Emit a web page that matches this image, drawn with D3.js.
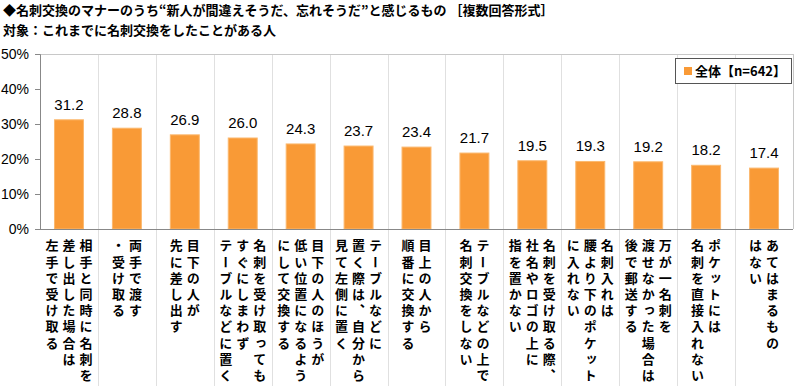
<!DOCTYPE html>
<html>
<head>
<meta charset="utf-8">
<script src="https://cdn.jsdelivr.net/npm/d3@7"></script>
<style>
  html, body { margin: 0; padding: 0; background: #fff; }
  svg { display: block; }
  .jp { font-family: "Noto Sans CJK JP", "Noto Sans CJK SC", sans-serif; font-weight: bold; }
  .num { font-family: "Liberation Sans", Arial, sans-serif; }
</style>
</head>
<body>
<svg id="chart" width="800" height="391"></svg>
<script>
const titleLine1 = "◆名刺交換のマナーのうち“新人が間違えそうだ、忘れそうだ”と感じるもの ［複数回答形式］";
const titleLine2 = "対象：これまでに名刺交換をしたことがある人";
const seriesName = "全体【n=642】";

const categories = [
  ["相手と同時に名刺を", "差し出した場合は", "左手で受け取る"],
  ["両手で渡す", "・受け取る"],
  ["目下の人が", "先に差し出す"],
  ["名刺を受け取っても", "すぐにしまわず", "テーブルなどに置く"],
  ["目下の人のほうが", "低い位置になるよう", "にして交換する"],
  ["テーブルなどに", "置く際は、自分から", "見て左側に置く"],
  ["目上の人から", "順番に交換する"],
  ["テーブルなどの上で", "名刺交換をしない"],
  ["名刺を受け取る際、", "社名やロゴの上に", "指を置かない"],
  ["名刺入れは", "腰より下のポケット", "に入れない"],
  ["万が一名刺を", "渡せなかった場合は", "後で郵送する"],
  ["ポケットには", "名刺を直接入れない"],
  ["あてはまるもの", "はない"]
];
const values = [31.2, 28.8, 26.9, 26.0, 24.3, 23.7, 23.4, 21.7, 19.5, 19.3, 19.2, 18.2, 17.4];
const yTicks = [0, 10, 20, 30, 40, 50];

const svg = d3.select("#chart");
const pL = 40, pR = 793, pT = 54, pB = 229;

const x = d3.scaleBand().domain(d3.range(categories.length))
  .range([pL, pR]).paddingInner(0.5).paddingOuter(0.25);
const y = d3.scaleLinear().domain([0, 50]).range([pB, pT]);
const step = x.step();

// Title
svg.append("text").attr("class", "jp").attr("x", 3).attr("y", 15)
  .attr("font-size", 13).attr("fill", "#000").text(titleLine1);
svg.append("text").attr("class", "jp").attr("x", 3).attr("y", 35)
  .attr("font-size", 13).attr("fill", "#000").text(titleLine2);

// Category separators (plot + label area)
const seps = d3.range(1, categories.length).map(i => Math.round(x(i) - (step - x.bandwidth()) / 2) + 0.5);
svg.append("g").selectAll("line").data(seps).join("line")
  .attr("x1", d => d).attr("x2", d => d)
  .attr("y1", pT).attr("y2", 386)
  .attr("stroke", "#e0e0e0").attr("stroke-width", 1);

// Plot frame: top and right
svg.append("line").attr("x1", pL).attr("x2", pR).attr("y1", pT + 0.5).attr("y2", pT + 0.5)
  .attr("stroke", "#c8c8c8");
svg.append("line").attr("x1", pR + 0.5).attr("x2", pR + 0.5).attr("y1", pT).attr("y2", pB)
  .attr("stroke", "#c8c8c8");

// Bars
svg.append("g").selectAll("rect").data(values).join("rect")
  .attr("x", (d, i) => x(i)).attr("width", x.bandwidth())
  .attr("y", d => y(d)).attr("height", d => y(0) - y(d))
  .attr("fill", "#F99A36").attr("stroke", "#FBB86E").attr("stroke-width", 1);

// Value labels
svg.append("g").selectAll("text").data(values).join("text")
  .attr("class", "num")
  .attr("x", (d, i) => x(i) + x.bandwidth() / 2)
  .attr("y", d => y(d) - 10)
  .attr("text-anchor", "middle").attr("font-size", 15).attr("fill", "#000")
  .text(d => d.toFixed(1));

// Y axis
const yAxis = svg.append("g").attr("transform", `translate(${pL},0)`)
  .call(d3.axisLeft(y).tickValues(yTicks).tickFormat(d => d + "%").tickSize(5).tickPadding(6));
yAxis.select(".domain").attr("stroke", "#888");
yAxis.selectAll(".tick line").attr("stroke", "#888");
yAxis.selectAll(".tick text").attr("class", "num").attr("font-size", 14).attr("fill", "#000");

// X axis line
svg.append("line").attr("x1", pL).attr("x2", pR).attr("y1", pB + 0.5).attr("y2", pB + 0.5)
  .attr("stroke", "#888");

// Vertical category labels
const colGap = 17;
const lblG = svg.append("g");
categories.forEach((lines, i) => {
  const cx = x(i) + x.bandwidth() / 2;
  const n = lines.length;
  lines.forEach((line, j) => {
    lblG.append("text").attr("class", "jp")
      .attr("x", cx + ((n - 1) / 2 - j) * colGap)
      .attr("y", 239)
      .attr("font-size", 13)
      .attr("fill", "#000")
      .style("writing-mode", "vertical-rl")
      .style("letter-spacing", "3.2px")
      .text(line);
  });
});

// Legend
const lg = svg.append("g");
lg.append("rect").attr("x", 675.5).attr("y", 58.5).attr("width", 116).attr("height", 25)
  .attr("fill", "#fff").attr("stroke", "#555");
lg.append("rect").attr("x", 684).attr("y", 67).attr("width", 8).attr("height", 8).attr("fill", "#F99A36");
lg.append("text").attr("class", "jp").attr("x", 695).attr("y", 76).attr("font-size", 13)
  .attr("fill", "#000").text(seriesName);
</script>
</body>
</html>
